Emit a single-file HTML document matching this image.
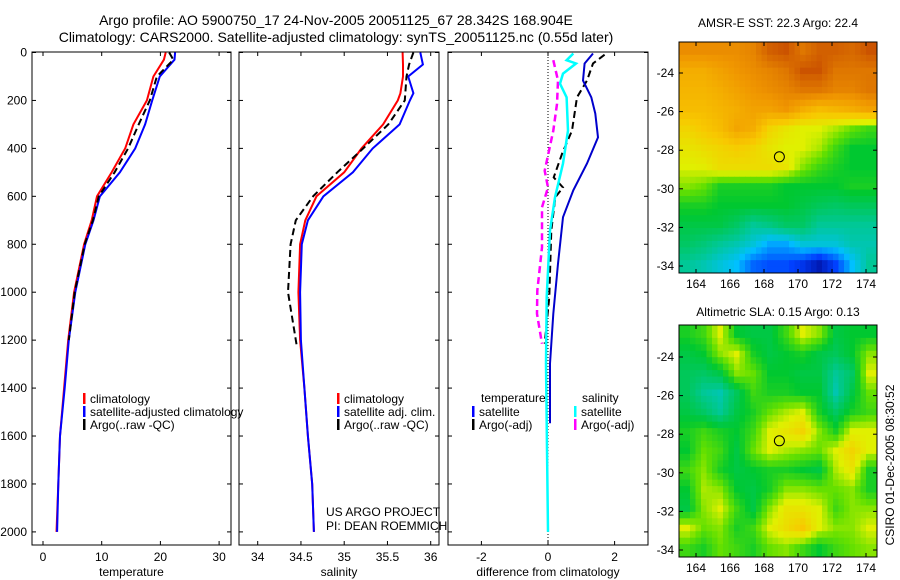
<!DOCTYPE html>
<html><head><meta charset="utf-8"><style>
html,body{margin:0;padding:0;background:#fff}
svg{display:block;font-family:"Liberation Sans",sans-serif}
</style></head><body>
<svg id="fig" width="900" height="580" viewBox="0 0 900 580">
<rect width="900" height="580" fill="#fff"/>
<text x="336" y="25" font-size="14" text-anchor="middle">Argo profile: AO 5900750_17 24-Nov-2005 20051125_67 28.342S 168.904E</text>
<text x="336" y="42" font-size="14" text-anchor="middle">Climatology: CARS2000. Satellite-adjusted climatology: synTS_20051125.nc (0.55d later)</text>
<g id="g"></g>
<text x="778" y="27" font-size="12" text-anchor="middle">AMSR-E SST: 22.3 Argo: 22.4</text>
<text x="778" y="316" font-size="12" text-anchor="middle">Altimetric SLA: 0.15 Argo: 0.13</text>
<text transform="translate(894,465) rotate(-90)" font-size="12" text-anchor="middle">CSIRO 01-Dec-2005 08:30:52</text>
</svg>
<script>
// ---- data ----
const depthT = [0,30,100,200,300,400,500,600,700,800,1000,1200,1400,1600,1800,2000];
const tempClim = [20.9,20.6,18.8,17.7,15.4,14.0,11.7,9.2,8.3,7.0,5.3,4.3,3.6,2.9,2.6,2.3];
const tempSat  = [22.5,22.4,19.9,18.6,17.4,15.7,13.1,9.7,8.6,7.2,5.5,4.4,3.7,2.9,2.6,2.4];
const depthArgo = [0,30,100,200,300,400,500,600,700,800,1000,1200];
const tempArgo = [21.5,22.2,19.4,18.2,16.3,14.5,12.2,9.5,8.5,7.1,5.4,4.4];
const depthS = [0,50,100,170,200,300,400,500,600,700,800,1000,1200,1400,1600,1800,2000];
const salClim = [35.675,35.68,35.68,35.65,35.62,35.45,35.2,35.0,34.68,34.55,34.49,34.47,34.49,34.54,34.58,34.63,34.65];
const salSat  = [35.88,35.91,35.74,35.8,35.76,35.64,35.33,35.1,34.76,34.58,34.51,34.49,34.5,34.54,34.58,34.63,34.65];
const depthSA = [0,50,100,200,300,400,500,600,700,800,1000,1220];
const salArgo = [35.8,35.75,35.72,35.70,35.51,35.22,34.92,34.64,34.44,34.38,34.35,34.45];
const dTempSatD = [4,46,117,187,255,354,463,575,687,881,1090,1298,1547];
const dTempSat  = [1.35,1.1,1.05,1.3,1.42,1.5,1.17,0.76,0.45,0.3,0.16,0.06,0.06];
const dTempArgoD = [9,46,117,187,326,423,521,563,604,743,1020,1215];
const dTempArgo  = [1.7,1.35,1.17,0.87,0.72,0.42,0.17,0.45,0.22,0.1,0.04,-0.1];
const dSalSatD = [4,32,46,88,130,187,326,463,604,743,1020,1298,2000];
const dSalSat  = [0.76,0.56,0.84,0.45,0.36,0.56,0.6,0.45,0.21,0.06,-0.04,-0.06,0];
const dSalArgoD = [32,117,215,326,493,563,646,813,994,1090,1215];
const dSalArgo  = [0.16,0.3,0.27,0.16,-0.1,0,-0.18,-0.18,-0.32,-0.33,-0.18];
const depthTicks = [0,200,400,600,800,1000,1200,1400,1600,1800,2000];
const tTicks = [0,10,20,30];
const sTicks = [34,34.5,35,35.5,36];
const dTicks = [-2,0,2];
const lonTicks = [164,166,168,170,172,174];
const latTicks = [-24,-26,-28,-30,-32,-34];
const sstGrid = [
[.8,.8,.8,.8,.82,.9,.92,.85,.9,.9,.88,.92],
[.72,.72,.75,.78,.8,.82,.85,.92,.92,.85,.85,.85],
[.7,.7,.72,.75,.78,.8,.82,.85,.85,.82,.82,.85],
[.68,.68,.7,.72,.75,.75,.78,.72,.68,.7,.72,.75],
[.62,.65,.68,.74,.72,.62,.58,.55,.55,.52,.48,.45],
[.58,.6,.62,.64,.62,.58,.55,.55,.52,.45,.4,.4],
[.55,.56,.6,.6,.6,.6,.58,.5,.45,.42,.4,.4],
[.5,.48,.42,.42,.42,.42,.4,.4,.4,.4,.42,.42],
[.42,.42,.4,.4,.4,.4,.4,.38,.36,.35,.36,.36],
[.38,.38,.38,.35,.3,.32,.35,.35,.3,.3,.3,.3],
[.35,.33,.3,.28,.25,.2,.2,.25,.25,.25,.28,.28],
[.3,.28,.25,.22,.15,.13,.13,.1,.05,.12,.22,.3]];
const slaGrid = [
[.42,.45,.55,.4,.38,.38,.45,.55,.5,.38,.4,.4],
[.38,.4,.5,.55,.42,.38,.4,.42,.38,.36,.4,.5],
[.36,.35,.38,.5,.48,.4,.4,.38,.38,.3,.35,.55],
[.36,.3,.28,.36,.45,.42,.42,.4,.4,.28,.38,.48],
[.38,.35,.3,.38,.42,.48,.52,.55,.42,.35,.42,.45],
[.42,.45,.42,.4,.45,.55,.58,.62,.5,.42,.55,.55],
[.4,.48,.45,.38,.48,.55,.52,.5,.48,.55,.62,.55],
[.45,.5,.42,.38,.4,.42,.42,.4,.38,.52,.58,.42],
[.4,.52,.5,.4,.38,.42,.5,.5,.48,.48,.5,.42],
[.38,.5,.55,.45,.38,.5,.58,.58,.55,.45,.5,.5],
[.55,.48,.5,.42,.45,.55,.6,.65,.55,.5,.5,.55],
[.45,.42,.48,.45,.42,.48,.5,.45,.4,.45,.48,.5]];

const NS="http://www.w3.org/2000/svg", G=document.getElementById('g');
function mk(t,a,p){const e=document.createElementNS(NS,t);for(const k in a)e.setAttribute(k,a[k]);(p||G).appendChild(e);return e;}
const yD = d => 52.5 + d*0.2397;
function panel(name,x0,x1,xs,ticks,fmt,label,labelLeft){
  const b=mk('rect',{x:x0,y:52,width:x1-x0,height:493,fill:'none',stroke:'#000','stroke-width':1});
  
  
  depthTicks.forEach(d=>{const y=yD(d);
    mk('line',{x1:x0,x2:x0+4,y1:y,y2:y,stroke:'#000'});mk('line',{x1:x1-4,x2:x1,y1:y,y2:y,stroke:'#000'});
    if(labelLeft){const t=mk('text',{x:x0-5,y:y+4,'font-size':12,'text-anchor':'end'});t.textContent=d;
      
      }});
  ticks.forEach(v=>{const x=xs(v);
    mk('line',{x1:x,x2:x,y1:545,y2:541,stroke:'#000'});mk('line',{x1:x,x2:x,y1:52,y2:56,stroke:'#000'});
    const t=mk('text',{x:x,y:561,'font-size':12,'text-anchor':'middle'});t.textContent=fmt(v);
    
    });
  const l=mk('text',{x:(x0+x1)/2,y:576,'font-size':12,'text-anchor':'middle'});l.textContent=label;
  
  
}
function line(xs,vals,depths,color,dash,name,w){
  const pts=vals.map((v,i)=>xs(v).toFixed(1)+','+yD(depths[i]).toFixed(1)).join(' ');
  const p=mk('polyline',{points:pts,fill:'none',stroke:color,'stroke-width':w||2});
  if(dash)p.setAttribute('stroke-dasharray',dash);
  
  
}
function legend(x,y,items){items.forEach((it,i)=>{
  mk('rect',{x:x,y:y+i*13-10,width:2.5,height:11,fill:it[0]});
  const t=mk('text',{x:x+7,y:y+i*13,'font-size':12});t.textContent=it[1];
  
  });}

const xT=v=>43+v*5.87;
panel('temperature-panel',32,231,xT,tTicks,v=>v,'temperature',true);
line(xT,tempClim,depthT,'#f00',null,'temp-climatology-line');
line(xT,tempSat,depthT,'#00f',null,'temp-satellite-line');
line(xT,tempArgo,depthArgo,'#000','7,4','temp-argo-line');
legend(83,403,[['#f00','climatology'],['#00f','satellite-adjusted climatology'],['#000','Argo(..raw -QC)']]);
const xS=v=>257.7+(v-34)*86.5;
panel('salinity-panel',239,439,xS,sTicks,v=>v,'salinity',false);
line(xS,salClim,depthS,'#f00',null,'sal-climatology-line');
line(xS,salSat,depthS,'#00f',null,'sal-satellite-line');
line(xS,salArgo,depthSA,'#000','7,4','sal-argo-line');
legend(337,403,[['#f00','climatology'],['#00f','satellite adj. clim.'],['#000','Argo(..raw -QC)']]);
[['US ARGO PROJECT',516],['PI: DEAN ROEMMICH',530]].forEach(a=>{const t=mk('text',{x:326,y:a[1],'font-size':12});t.textContent=a[0];
  
  });
const xD=v=>548+v*33.3;
panel('difference-panel',448,648,xD,dTicks,v=>v,'difference from climatology',false);
const z=mk('line',{x1:548,x2:548,y1:54,y2:544,stroke:'#000','stroke-dasharray':'1,2'});


line(xD,dSalArgo,dSalArgoD,'#f0f','7,4','sal-argo-diff-line',2.5);
line(xD,dTempArgo,dTempArgoD,'#000','7,4','temp-argo-diff-line');
line(xD,dSalSat,dSalSatD,'#0ff',null,'sal-satellite-diff-line',2.5);
line(xD,dTempSat,dTempSatD,'#00c',null,'temp-satellite-diff-line');
const tl=mk('text',{x:481,y:402,'font-size':12});tl.textContent='temperature';


const sl=mk('text',{x:582,y:402,'font-size':12});sl.textContent='salinity';


legend(472,416,[['#00f','satellite'],['#000','Argo(-adj)']]);
legend(574,416,[['#0ff','satellite'],['#f0f','Argo(-adj)']]);

const stops=[[0,[0,0,128]],[.12,[0,64,255]],[.22,[0,192,255]],[.3,[0,200,150]],[.4,[0,200,48]],[.48,[100,224,0]],[.55,[224,240,0]],[.65,[248,200,0]],[.78,[240,150,0]],[.9,[210,96,0]],[1,[176,32,0]]];
function cmap(v){for(let i=1;i<stops.length;i++){if(v<=stops[i][0]){const a=stops[i-1],b=stops[i],f=(v-a[0])/(b[0]-a[0]);
  return 'rgb('+a[1].map((c,k)=>Math.round(c+(b[1][k]-c)*f)).join(',')+')';}}return 'rgb(176,32,0)';}
function sample(grid,r,c){ // bilinear lookup in grid (cell-centred)
  const R=grid.length,C=grid[0].length;
  r=Math.max(0,Math.min(R-1,r));c=Math.max(0,Math.min(C-1,c));
  const r0=Math.floor(r),c0=Math.floor(c),r1=Math.min(R-1,r0+1),c1=Math.min(C-1,c0+1),fr=r-r0,fc=c-c0;
  return (grid[r0][c0]*(1-fc)+grid[r0][c1]*fc)*(1-fr)+(grid[r1][c0]*(1-fc)+grid[r1][c1]*fc)*fr;
}
function map(name,x0,y0,w,h,grid,lat24y,lat34y){
  const rows=grid.length,cols=grid[0].length,K=3,cw=w/(cols*K),ch=h/(rows*K);
  for(let i=0;i<rows*K;i++)for(let j=0;j<cols*K;j++){
    const v=sample(grid,(i+0.5)/K-0.5,(j+0.5)/K-0.5);
    const c=mk('rect',{x:(x0+j*cw).toFixed(2),y:(y0+i*ch).toFixed(2),width:(cw+0.5).toFixed(2),height:(ch+0.5).toFixed(2),fill:cmap(v)});
    
    
  }
  const f=mk('rect',{x:x0,y:y0,width:w,height:h,fill:'none',stroke:'#000'});
  
  
  const lx=v=>696+(v-164)*17, ly=v=>lat24y+(-24-v)*(lat34y-lat24y)/10;
  lonTicks.forEach(v=>{const x=lx(v);mk('line',{x1:x,x2:x,y1:y0+h,y2:y0+h-4,stroke:'#000'});mk('line',{x1:x,x2:x,y1:y0,y2:y0+4,stroke:'#000'});
    const t=mk('text',{x:x,y:y0+h+15,'font-size':12,'text-anchor':'middle'});t.textContent=v;
    
    });
  latTicks.forEach(v=>{const y=ly(v);mk('line',{x1:x0,x2:x0+4,y1:y,y2:y,stroke:'#000'});mk('line',{x1:x0+w,x2:x0+w-4,y1:y,y2:y,stroke:'#000'});
    const t=mk('text',{x:x0-5,y:y+4,'font-size':12,'text-anchor':'end'});t.textContent=v;
    
    });
  const c=mk('circle',{cx:lx(168.904),cy:ly(-28.342),r:5,fill:'none',stroke:'#000'});
  
  
}
map('sst-map',679,42,198,231,sstGrid,73,266);
map('sla-map',679,325,198,232,slaGrid,357,550);
</script>
</body></html>
